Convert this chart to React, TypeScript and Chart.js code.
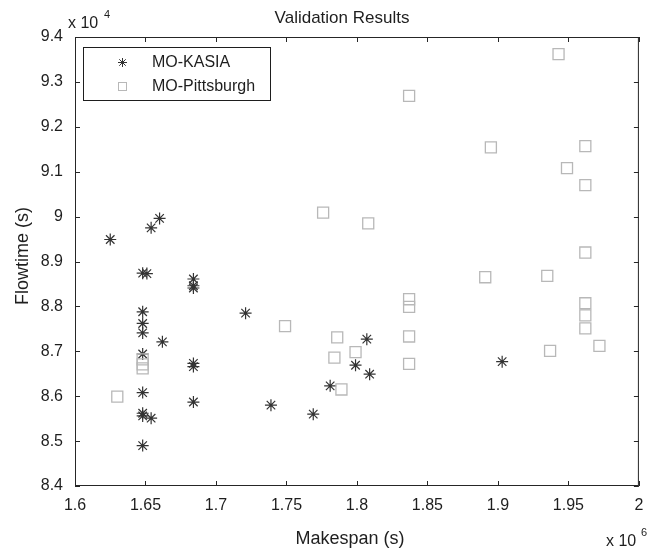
import React, { useEffect, useRef } from "react";
import { Chart, registerables } from "chart.js";

Chart.register(...registerables);

// Makespan values are in units of 10^6 s, Flowtime values in units of 10^4 s
const kasiaMakespan = [
  1.625, 1.654, 1.66, 1.648, 1.651, 1.684, 1.684, 1.684, 1.721, 1.648,
  1.648, 1.648, 1.662, 1.648, 1.684, 1.684, 1.648, 1.648, 1.648, 1.654,
  1.648, 1.684, 1.739, 1.769, 1.781, 1.799, 1.809, 1.807, 1.903,
];
const kasiaFlowtime = [
  8.949, 8.975, 8.996, 8.874, 8.873, 8.861, 8.846, 8.841, 8.785, 8.788,
  8.762, 8.741, 8.721, 8.694, 8.673, 8.666, 8.608, 8.562, 8.556, 8.551,
  8.49, 8.587, 8.58, 8.56, 8.623, 8.669, 8.649, 8.727, 8.677,
];
const pittMakespan = [
  1.63, 1.648, 1.648, 1.648, 1.776, 1.808, 1.837, 1.837, 1.749, 1.786,
  1.837, 1.784, 1.799, 1.789, 1.837, 1.943, 1.895, 1.962, 1.949, 1.962,
  1.837, 1.962, 1.891, 1.935, 1.962, 1.962, 1.962, 1.972, 1.937,
];
const pittFlowtime = [
  8.599, 8.682, 8.671, 8.662, 9.009, 8.985, 8.816, 8.799, 8.756, 8.731,
  8.733, 8.686, 8.698, 8.615, 8.672, 9.362, 9.154, 9.157, 9.108, 9.07,
  9.269, 8.92, 8.865, 8.868, 8.807, 8.78, 8.751, 8.712, 8.701,
];

const xTicks = [1.6, 1.65, 1.7, 1.75, 1.8, 1.85, 1.9, 1.95, 2.0];
const yTicks = [8.4, 8.5, 8.6, 8.7, 8.8, 8.9, 9.0, 9.1, 9.2, 9.3, 9.4];

const seriesNames = ["MO-KASIA", "MO-Pittsburgh"];
const titleText = "Validation Results";
const xLabel = "Makespan (s)";
const yLabel = "Flowtime (s)";

const FONT = '"Liberation Sans", Arial, Helvetica, sans-serif';
const TEXT = "#1e1e1e";
const STAR_COLOR = "#333333";
const SQUARE_COLOR = "#b8b8b8";

const fmt = (v: number) => String(Number(v.toFixed(2)));

const decor = {
  id: "decor",
  afterDraw(chart: any) {
    const { ctx, chartArea: a, scales } = chart;
    ctx.save();
    // frame
    ctx.strokeStyle = "#262626";
    ctx.lineWidth = 1;
    ctx.strokeRect(a.left + 0.5, a.top + 0.5, a.right - a.left - 1, a.bottom - a.top - 1);
    // inward ticks
    ctx.beginPath();
    const tl = 5;
    xTicks.forEach((v) => {
      const px = Math.round(scales.x.getPixelForValue(v)) + 0.5;
      ctx.moveTo(px, a.bottom);
      ctx.lineTo(px, a.bottom - tl);
      ctx.moveTo(px, a.top);
      ctx.lineTo(px, a.top + tl);
    });
    yTicks.forEach((v) => {
      const py = Math.round(scales.y.getPixelForValue(v)) + 0.5;
      ctx.moveTo(a.left, py);
      ctx.lineTo(a.left + tl, py);
      ctx.moveTo(a.right, py);
      ctx.lineTo(a.right - tl, py);
    });
    ctx.stroke();

    ctx.fillStyle = TEXT;
    // title
    ctx.font = `17px ${FONT}`;
    ctx.textAlign = "center";
    ctx.textBaseline = "alphabetic";
    ctx.fillText(titleText, 342, 23);
    // x label
    ctx.font = `18px ${FONT}`;
    ctx.fillText(xLabel, 350, 544);
    // y label
    ctx.save();
    ctx.translate(28, 256);
    ctx.rotate(-Math.PI / 2);
    ctx.fillText(yLabel, 0, 0);
    ctx.restore();
    // exponent labels
    ctx.textAlign = "left";
    ctx.font = `16px ${FONT}`;
    ctx.fillText("x 10", 68, 28);
    ctx.font = `11px ${FONT}`;
    ctx.fillText("4", 104, 18);
    ctx.font = `16px ${FONT}`;
    ctx.fillText("x 10", 606, 546);
    ctx.font = `11px ${FONT}`;
    ctx.fillText("6", 641, 536);

    // legend
    ctx.fillStyle = "#ffffff";
    ctx.fillRect(83, 47, 188, 54);
    ctx.strokeStyle = "#1e1e1e";
    ctx.lineWidth = 1;
    ctx.strokeRect(83.5, 47.5, 187, 53);
    // star
    const sx = 122.5, sy1 = 62.5, sy2 = 86.5;
    ctx.strokeStyle = STAR_COLOR;
    ctx.beginPath();
    const r = 4.5;
    ctx.moveTo(sx - r, sy1); ctx.lineTo(sx + r, sy1);
    ctx.moveTo(sx, sy1 - r); ctx.lineTo(sx, sy1 + r);
    const d = r * 0.72;
    ctx.moveTo(sx - d, sy1 - d); ctx.lineTo(sx + d, sy1 + d);
    ctx.moveTo(sx - d, sy1 + d); ctx.lineTo(sx + d, sy1 - d);
    ctx.stroke();
    // square
    ctx.strokeStyle = SQUARE_COLOR;
    ctx.strokeRect(sx - 4, sy2 - 4, 8, 8);
    ctx.fillStyle = TEXT;
    ctx.font = `16px ${FONT}`;
    ctx.textAlign = "left";
    ctx.textBaseline = "middle";
    ctx.fillText(seriesNames[0], 152, sy1);
    ctx.fillText(seriesNames[1], 152, sy2);
    ctx.restore();
  },
};

export default function App() {
  const ref = useRef<HTMLCanvasElement | null>(null);
  useEffect(() => {
    if (!ref.current) return;
    const kasia = kasiaMakespan.map((x, i) => ({ x, y: kasiaFlowtime[i] }));
    const pitt = pittMakespan.map((x, i) => ({ x, y: pittFlowtime[i] }));
    const chart = new Chart(ref.current, {
      type: "scatter",
      data: {
        datasets: [
          {
            label: seriesNames[1],
            data: pitt,
            pointStyle: "rect",
            pointRadius: 7.8,
            pointHoverRadius: 7.8,
            borderColor: SQUARE_COLOR,
            backgroundColor: "rgba(0,0,0,0)",
            borderWidth: 1.3,
          },
          {
            label: seriesNames[0],
            data: kasia,
            pointStyle: "star",
            pointRadius: 6,
            pointHoverRadius: 6,
            borderColor: STAR_COLOR,
            backgroundColor: STAR_COLOR,
            borderWidth: 1.2,
          },
        ],
      },
      options: {
        animation: false,
        responsive: false,
        maintainAspectRatio: false,
        layout: { padding: { top: 37, left: 0, right: 4, bottom: 0 } },
        plugins: {
          legend: { display: false },
          title: { display: false },
          tooltip: { enabled: false },
        },
        font: { family: FONT },
        scales: {
          x: {
            type: "linear",
            min: 1.6,
            max: 2.0,
            grid: { display: false, drawTicks: false },
            border: { display: false },
            afterBuildTicks: (s: any) => {
              s.ticks = xTicks.map((v) => ({ value: v }));
            },
            afterFit: (s: any) => {
              s.height = 65;
              s.paddingLeft = 0;
              s.paddingRight = 0;
            },
            ticks: {
              color: TEXT,
              padding: 10,
              maxRotation: 0,
              autoSkip: false,
              font: { family: FONT, size: 16 },
              callback: (v: any) => fmt(Number(v)),
            },
          },
          y: {
            type: "linear",
            min: 8.4,
            max: 9.4,
            grid: { display: false, drawTicks: false },
            border: { display: false },
            afterBuildTicks: (s: any) => {
              s.ticks = yTicks.map((v) => ({ value: v }));
            },
            afterFit: (s: any) => {
              s.width = 75;
            },
            ticks: {
              color: TEXT,
              padding: 12,
              autoSkip: false,
              font: { family: FONT, size: 16 },
              callback: (v: any) => fmt(Number(v)),
            },
          },
        },
      },
      plugins: [decor],
    });
    return () => chart.destroy();
  }, []);
  return (
    <div style={{ position: "fixed", left: 0, top: 0, width: 648, height: 551, background: "#fff" }}>
      <canvas ref={ref} width={648} height={551} style={{ display: "block" }} />
    </div>
  );
}
